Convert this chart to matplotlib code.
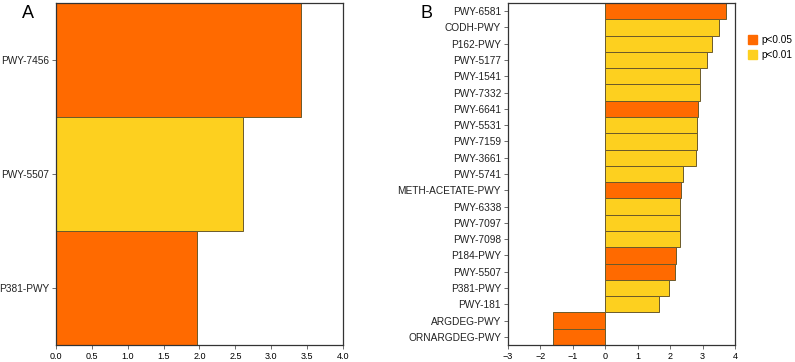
import matplotlib.pyplot as plt
from matplotlib.patches import Patch

ORANGE = '#FF6A00'
YELLOW = '#FDD01F'

# panel A
a_labels = ['PWY-7456', 'PWY-5507', 'P381-PWY']
a_values = [3.41, 2.61, 1.97]
a_sig = ['p<0.05', 'p<0.01', 'p<0.05']

# panel B
b_labels = ['PWY-6581', 'CODH-PWY', 'P162-PWY', 'PWY-5177', 'PWY-1541', 'PWY-7332',
            'PWY-6641', 'PWY-5531', 'PWY-7159', 'PWY-3661', 'PWY-5741', 'METH-ACETATE-PWY',
            'PWY-6338', 'PWY-7097', 'PWY-7098', 'P184-PWY', 'PWY-5507', 'P381-PWY',
            'PWY-181', 'ARGDEG-PWY', 'ORNARGDEG-PWY']
b_values = [3.71, 3.51, 3.28, 3.15, 2.93, 2.92, 2.87, 2.83, 2.83, 2.81, 2.41, 2.35,
            2.29, 2.29, 2.29, 2.17, 2.16, 1.97, 1.66, -1.62, -1.62]
b_sig = ['p<0.05', 'p<0.01', 'p<0.01', 'p<0.01', 'p<0.01', 'p<0.01',
         'p<0.05', 'p<0.01', 'p<0.01', 'p<0.01', 'p<0.01', 'p<0.05',
         'p<0.01', 'p<0.01', 'p<0.01', 'p<0.05', 'p<0.05', 'p<0.01',
         'p<0.01', 'p<0.05', 'p<0.05']

cmap = {'p<0.05': ORANGE, 'p<0.01': YELLOW}

plt.rcParams['font.family'] = ['Liberation Sans', 'DejaVu Sans']

fig = plt.figure(figsize=(7.95, 3.62), dpi=100)
axA = fig.add_axes([56/795, 1-345/362, (343-56)/795, 342/362])
axB = fig.add_axes([508/795, 1-345/362, (735-508)/795, 342/362])


def draw(ax, labels, values, sig, xlim, xticks):
    y = list(range(len(labels)))
    ax.barh(y, values, height=1.0, color=[cmap[s] for s in sig],
            edgecolor='#6b5a2a', linewidth=0.7)
    ax.set_ylim(len(labels) - 0.5, -0.5)
    ax.set_xlim(*xlim)
    ax.set_yticks(y)
    ax.set_yticklabels(labels)
    ax.set_xticks(xticks)
    ax.tick_params(axis='both', length=3, width=0.6, color='#555555', pad=2)
    ax.tick_params(axis='x', labelsize=6.5)
    ax.tick_params(axis='y', labelsize=7.3, labelcolor='#222222')
    for s in ax.spines.values():
        s.set_color('#333333')
        s.set_linewidth(0.9)


draw(axA, a_labels, a_values, a_sig, (0, 4), [0, 0.5, 1, 1.5, 2, 2.5, 3, 3.5, 4])
axA.set_xticklabels(['0.0', '0.5', '1.0', '1.5', '2.0', '2.5', '3.0', '3.5', '4.0'])
draw(axB, b_labels, b_values, b_sig, (-3, 4), [-3, -2, -1, 0, 1, 2, 3, 4])
axB.set_xticklabels(['\u22123', '\u22122', '\u22121', '0', '1', '2', '3', '4'])

fig.text(22/795, 1-13/362, 'A', fontsize=13, ha='left', va='center')
fig.text(420/795, 1-13/362, 'B', fontsize=13, ha='left', va='center')

handles = [Patch(color=ORANGE, label='p<0.05'), Patch(color=YELLOW, label='p<0.01')]
fig.legend(handles=handles, loc='upper left', bbox_to_anchor=(748/795, 1-35/362),
           frameon=False, fontsize=7.2, handlelength=0.9, handleheight=1.0,
           handletextpad=0.4, labelspacing=0.5, borderaxespad=0, borderpad=0)

fig.savefig('out.png', dpi=100)
